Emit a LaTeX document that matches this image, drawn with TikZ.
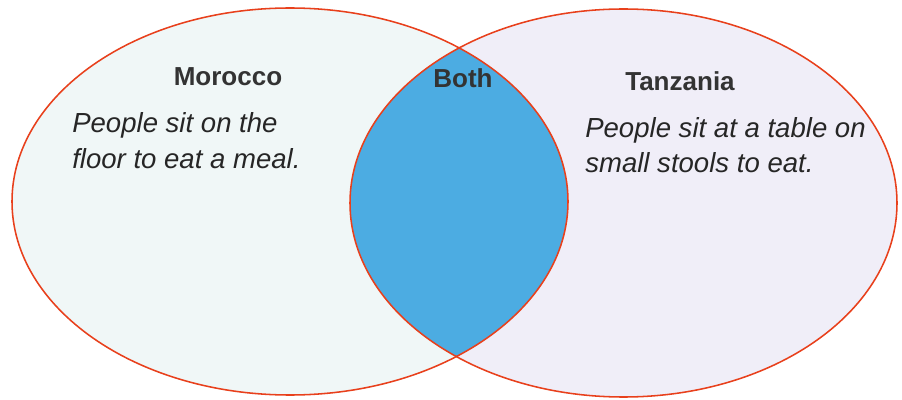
\documentclass[tikz,border=0pt]{standalone}
\usepackage{fontspec}
\setmainfont{Liberation Sans}

\definecolor{vennred}{RGB}{232,64,28}
\definecolor{morfill}{RGB}{240,247,247}
\definecolor{tanfill}{RGB}{240,238,248}
\definecolor{bothfill}{RGB}{76,172,226}

\tikzset{
  set title/.style={font=\fontsize{18.5}{22}\selectfont\bfseries, text=black!80},
  set note/.style={font=\fontsize{19.6}{25.6}\selectfont\itshape, text=black!85, anchor=base west, inner sep=0pt},
  set border/.style={draw=vennred, line width=1.1pt},
}

\begin{document}
\begin{tikzpicture}[x=0.025cm,y=-0.025cm]
\useasboundingbox (0,0) rectangle (902,400);
\fill[morfill] (290,201.5) ellipse [x radius=278, y radius=193.5];
\fill[tanfill] (623.5,203) ellipse [x radius=273.5, y radius=194];
\begin{scope}
  \clip (290,201.5) ellipse [x radius=278, y radius=193.5];
  \fill[bothfill] (623.5,203) ellipse [x radius=273.5, y radius=194];
\end{scope}
\draw[set border] (290,201.5) ellipse [x radius=278, y radius=193.5];
\draw[set border] (623.5,203) ellipse [x radius=273.5, y radius=194];

\node[set title] (morocco) at (228,77) {Morocco};
\node[set title] (both) at (463,78) {Both};
\node[set title] (tanzania) at (680,81) {Tanzania};

\node[set note] (morocco1) at (72,133) {People sit on the};
\node[set note] (morocco2) at (72,169) {floor to eat a meal.};
\node[set note] (tanzania1) at (585,138) {People sit at a table on};
\node[set note] (tanzania2) at (585,173) {small stools to eat.};
\end{tikzpicture}
\end{document}
